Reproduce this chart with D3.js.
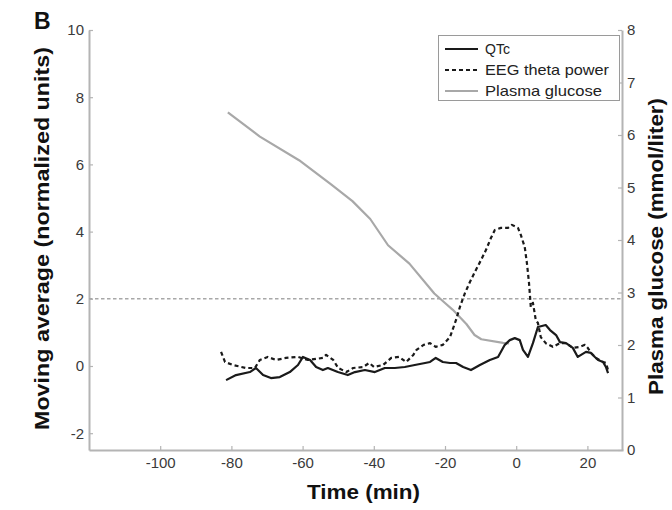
<!DOCTYPE html>
<html>
<head>
<meta charset="utf-8">
<script src="https://cdn.jsdelivr.net/npm/d3@7/dist/d3.min.js"></script>
<style>
  html, body { margin: 0; padding: 0; background: #fff; }
  svg { display: block; font-family: "Liberation Sans", Arial, sans-serif; }
</style>
</head>
<body>
<svg id="chart" width="672" height="510"></svg>
<script>
// ---- Data ----
const xTicks = [-100, -80, -60, -40, -20, 0, 20];
const leftTicks = [-2, 0, 2, 4, 6, 8, 10];
const rightTicks = [0, 1, 2, 3, 4, 5, 6, 7, 8];
const thresholdValue = 2;

// QTc moving average: [time (min), normalized units]
const qtc = [
  [-81.5,-0.42],[-78.7,-0.27],[-74.8,-0.18],[-73.1,-0.06],[-71.1,-0.27],[-68.9,-0.36],
  [-66.4,-0.33],[-63.6,-0.18],[-61.3,0.03],[-59.9,0.27],[-57.9,0.18],[-56.2,-0.03],
  [-54.3,-0.12],[-52.9,-0.06],[-50.1,-0.18],[-47.3,-0.27],[-45.3,-0.18],[-42.5,-0.12],
  [-39.7,-0.18],[-36.9,-0.06],[-34.1,-0.06],[-31.3,-0.03],[-28.5,0.03],[-25.6,0.09],
  [-24.2,0.12],[-22.6,0.24],[-20.6,0.12],[-18.6,0.09],[-16.9,0.09],[-14.9,-0.03],
  [-12.7,-0.12],[-10.2,0.03],[-7.4,0.18],[-5.1,0.27],[-3.2,0.63],[-1.8,0.77],
  [-0.4,0.83],[1.0,0.77],[1.9,0.48],[3.3,0.27],[4.7,0.68],[6.1,1.16],[8.3,1.22],
  [9.5,1.07],[11.2,0.92],[12.3,0.71],[14.0,0.68],[15.9,0.54],[17.3,0.27],[19.6,0.42],
  [21.0,0.39],[22.1,0.27],[23.0,0.18],[24.4,0.12],[25.2,-0.03],[25.8,-0.21]
];

// EEG theta power moving average: [time (min), normalized units]
const eeg = [
  [-82.9,0.42],[-81.8,0.12],[-79.6,0.03],[-75.9,-0.06],[-73.4,-0.06],[-72.0,0.18],
  [-69.8,0.27],[-67.5,0.18],[-64.7,0.24],[-61.3,0.27],[-58.5,0.18],[-54.3,0.24],
  [-53.4,0.33],[-51.4,0.18],[-50.0,-0.06],[-47.7,-0.18],[-45.8,-0.06],[-43.0,-0.03],
  [-41.3,0.09],[-39.9,-0.03],[-37.4,0.03],[-35.1,0.24],[-32.9,0.27],[-30.9,0.12],
  [-28.9,0.33],[-28.0,0.48],[-26.0,0.63],[-24.2,0.68],[-22.6,0.57],[-20.6,0.63],
  [-18.6,0.86],[-16.9,1.37],[-15.8,1.76],[-14.4,2.17],[-13.0,2.50],[-11.6,2.80],
  [-9.9,3.15],[-8.5,3.45],[-7.1,3.81],[-6.0,4.05],[-4.3,4.11],[-2.3,4.11],[-1.2,4.20],
  [0.5,4.11],[1.3,3.90],[2.4,3.54],[3.0,3.07],[3.6,2.47],[4.1,1.76],[4.7,1.88],
  [5.5,1.37],[6.1,1.28],[6.9,0.86],[8.3,0.68],[10.3,0.57],[12.3,0.68],[14.0,0.68],
  [15.9,0.54],[17.9,0.57],[19.3,0.63],[20.1,0.54],[21.0,0.39],[22.4,0.24],[24.4,0.12],
  [25.2,0.09],[25.8,-0.12]
];

// Plasma glucose: [time (min), mmol/liter]
const glucose = [
  [-81,6.43],[-72,5.97],[-61,5.52],[-52,5.06],[-46,4.74],[-41,4.4],[-36,3.9],
  [-30,3.55],[-23,2.98],[-20,2.8],[-17.8,2.67],[-14,2.4],[-11.7,2.19],[-9.8,2.11],
  [-3.7,2.04],[-2,2.03]
];

const legendLabels = ["QTc", "EEG theta power", "Plasma glucose"];

// ---- Drawing ----
const legendItems = [
  { label: legendLabels[0], color: "#1a1a1a", dash: null, len: 25 },
  { label: legendLabels[1], color: "#1a1a1a", dash: "4,3", len: 124 },
  { label: legendLabels[2], color: "#a8a8a8", dash: null, len: 117 }
];

const svg = d3.select("#chart");
const axisColor = "#b4b4b4";
const tickTextColor = "#3a3a3a";

const x = d3.scaleLinear().domain([-120, 30]).range([89, 623]);
const yL = d3.scaleLinear().domain([-2.5, 10]).range([450, 30]);
const yR = d3.scaleLinear().domain([0, 8]).range([450, 30]);
const fmt = d => String(d);

function styleAxis(g) {
  g.selectAll("path.domain").attr("stroke", axisColor).attr("stroke-width", 2);
  g.selectAll(".tick line").attr("stroke", axisColor).attr("stroke-width", 1.2);
  g.selectAll(".tick text").attr("fill", tickTextColor)
    .style("font-size", "15px").style("font-family", "'Liberation Sans', Arial, sans-serif");
}

// Left axis
svg.append("g").attr("transform", "translate(89,0)")
  .call(d3.axisLeft(yL).tickValues(leftTicks).tickFormat(fmt).tickSizeInner(-4).tickSizeOuter(0).tickPadding(5))
  .call(styleAxis);

// Right axis
svg.append("g").attr("transform", "translate(622,0)")
  .call(d3.axisRight(yR).tickValues(rightTicks).tickFormat(fmt).tickSizeInner(-4).tickSizeOuter(0).tickPadding(5))
  .call(styleAxis);

// Bottom axis
svg.append("g").attr("transform", "translate(0,450)")
  .call(d3.axisBottom(x).tickValues(xTicks).tickFormat(fmt).tickSizeInner(-4).tickSizeOuter(0).tickPadding(7))
  .call(styleAxis);

// Threshold dashed line
svg.append("line")
  .attr("x1", x(-120)).attr("x2", x(30))
  .attr("y1", yL(thresholdValue)).attr("y2", yL(thresholdValue))
  .attr("stroke", "#a8a8a8").attr("stroke-width", 1.6).attr("stroke-dasharray", "3.5,2.5");

// Series lines
const lineL = d3.line().x(d => x(d[0])).y(d => yL(d[1]));
const lineR = d3.line().x(d => x(d[0])).y(d => yR(d[1]));

svg.append("path").datum(glucose).attr("d", lineR)
  .attr("fill", "none").attr("stroke", legendItems[2].color).attr("stroke-width", 2.2)
  .attr("stroke-linejoin", "round");

svg.append("path").datum(eeg).attr("d", lineL)
  .attr("fill", "none").attr("stroke", legendItems[1].color).attr("stroke-width", 2.2)
  .attr("stroke-dasharray", legendItems[1].dash).attr("stroke-linejoin", "round");

svg.append("path").datum(qtc).attr("d", lineL)
  .attr("fill", "none").attr("stroke", legendItems[0].color).attr("stroke-width", 2.2)
  .attr("stroke-linejoin", "round");

// Legend
const legend = svg.append("g");
legend.append("rect").attr("x", 438.5).attr("y", 35.5).attr("width", 181).attr("height", 65)
  .attr("fill", "#fff").attr("stroke", "#9a9a9a").attr("stroke-width", 1);
legendItems.forEach((it, i) => {
  const yy = 49 + i * 21;
  legend.append("line").attr("x1", 445).attr("x2", 478).attr("y1", yy).attr("y2", yy)
    .attr("stroke", it.color).attr("stroke-width", 2.2)
    .attr("stroke-dasharray", it.dash);
  legend.append("text").attr("x", 485).attr("y", yy + 5).text(it.label)
    .attr("textLength", it.len).attr("lengthAdjust", "spacingAndGlyphs")
    .attr("fill", "#222").style("font-size", "14.5px");
});

// Panel letter
svg.append("text").attr("x", 34).attr("y", 29).text("B")
  .style("font-size", "23px").style("font-weight", "bold").attr("fill", "#111");

// Axis titles
svg.append("text")
  .attr("transform", "translate(49,238.5) rotate(-90)")
  .attr("text-anchor", "middle").text("Moving average (normalized units)")
  .attr("textLength", 383).attr("lengthAdjust", "spacingAndGlyphs")
  .style("font-size", "20px").style("font-weight", "bold").attr("fill", "#111");

svg.append("text")
  .attr("transform", "translate(663,246.5) rotate(-90)")
  .attr("text-anchor", "middle").text("Plasma glucose (mmol/liter)")
  .attr("textLength", 297).attr("lengthAdjust", "spacingAndGlyphs")
  .style("font-size", "20px").style("font-weight", "bold").attr("fill", "#111");

svg.append("text")
  .attr("x", 363.5).attr("y", 499)
  .attr("text-anchor", "middle").text("Time (min)")
  .attr("textLength", 113).attr("lengthAdjust", "spacingAndGlyphs")
  .style("font-size", "21px").style("font-weight", "bold").attr("fill", "#111");
</script>
</body>
</html>
